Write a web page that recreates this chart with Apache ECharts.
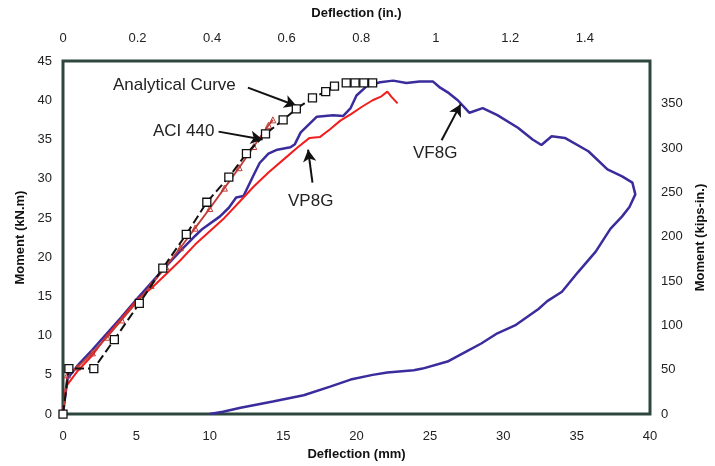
<!DOCTYPE html>
<html>
<head>
<meta charset="utf-8">
<script src="https://cdn.jsdelivr.net/npm/echarts@6/dist/echarts.min.js"></script>
<style>
  html, body { margin: 0; padding: 0; background: #fff; }
  #chart { width: 715px; height: 466px; }
</style>
</head>
<body>
<div id="chart"></div>
<script>
// 分析曲线 (mm, kN.m)
var analyticalX = [0, 0.4, 2.1, 3.5, 5.2, 6.8, 8.4, 9.8, 11.3, 12.5, 13.8, 15.0, 15.9, 17.0, 17.9, 18.5, 19.3, 19.9, 20.5, 21.1];
var analyticalY = [0, 5.8, 5.8, 9.5, 14.1, 18.6, 22.9, 27.0, 30.2, 33.2, 35.7, 37.5, 38.9, 40.3, 41.1, 41.8, 42.2, 42.2, 42.2, 42.2];

// ACI 440
var aciX = [0, 0.3, 1, 2, 3, 4, 5, 6, 7, 8, 9, 10, 11, 12, 13, 14, 14.3];
var aciY = [0, 5.0, 6.0, 7.8, 9.8, 12.0, 14.2, 16.4, 18.8, 21.2, 23.7, 26.2, 28.8, 31.4, 34.1, 36.8, 37.5];

// VP8G 试件
var vp8gX = [0, 0.2, 1, 2, 3, 4, 5, 6, 7, 8, 9, 10, 11, 12, 13, 14, 15, 16, 16.8, 17.5, 18.2, 18.9, 19.6, 20.4, 21.1, 21.7, 22.1, 22.4, 22.8];
var vp8gY = [0, 3.5, 5.5, 7.5, 10.0, 12.2, 14.5, 16.0, 17.8, 19.6, 21.6, 23.3, 25.0, 27.0, 29.0, 30.8, 32.4, 34.0, 35.2, 35.3, 36.3, 37.4, 38.2, 39.2, 40.0, 40.5, 41.1, 40.4, 39.6];

// VF8G 试件 (含卸载段)
var vf8gX = [0, 0.3, 1, 2, 3, 4, 5, 6, 7, 8, 9, 9.5, 10.7, 11.3, 11.8, 12.3, 13.0, 13.4, 14.0, 14.6, 15.5, 15.8, 16.2, 17.3, 18.4, 19.1, 19.6, 20.0, 20.7, 21.6, 22.5, 23.4, 24.3, 25.2, 25.7, 26.3, 26.9, 27.4, 27.7, 28.6, 29.6, 31.0, 32.0, 32.6, 33.3, 34.2, 35.8, 37.1, 38.1, 38.8, 39.0, 38.6, 38.1, 37.3, 36.3, 35.1, 34.0, 33.0, 32.4, 30.8, 29.6, 28.5, 27.5, 26.2, 24.5, 23.9, 22.1, 21.1, 19.6, 18.2, 16.4, 14.3, 12.1, 10.9, 10.0];
var vf8gY = [0, 4.5, 6.2, 8.2, 10.3, 12.4, 14.6, 16.7, 18.8, 20.8, 22.7, 23.6, 25.2, 26.3, 27.6, 27.8, 30.5, 32.0, 33.2, 33.7, 34.0, 34.4, 35.9, 37.9, 38.1, 38.0, 39.0, 40.6, 41.8, 42.3, 42.5, 42.2, 42.4, 42.4, 41.6, 40.9, 40.0, 39.0, 38.4, 39.0, 38.1, 36.5, 35.0, 34.3, 35.4, 35.2, 33.5, 31.2, 30.3, 29.5, 28.0, 26.4, 25.2, 23.6, 20.7, 18.1, 15.6, 14.4, 13.4, 11.3, 10.3, 9.0, 8.0, 6.7, 5.8, 5.6, 5.3, 5.0, 4.4, 3.5, 2.4, 1.6, 0.8, 0.3, 0];

// 箭头 (起点, 终点), 数据坐标
var arrowFrom = [[12.6, 41.6], [10.6, 36.0], [17.0, 29.5], [25.8, 34.9]];
var arrowTo = [[15.9, 39.3], [13.6, 35.0], [16.7, 33.7], [27.1, 39.5]];

var MM_PER_IN = 25.4;
var KIPIN_PER_KNM = 8.8507;

function pairs(xs, ys) {
    var out = [];
    for (var i = 0; i < xs.length; i++) out.push([xs[i], ys[i]]);
    return out;
}

var fontFamily = '"Liberation Sans", Arial, sans-serif';
var labelStyle = { color: '#222', fontSize: 13, fontFamily: fontFamily };
var nameStyle = { color: '#111', fontSize: 13, fontWeight: 'bold', fontFamily: fontFamily };

var arrows = [];
for (var i = 0; i < arrowFrom.length; i++) {
    arrows.push([{ coord: arrowFrom[i] }, { coord: arrowTo[i] }]);
}

var chart = echarts.init(document.getElementById('chart'));
var option = {
    animation: false,
    backgroundColor: '#fff',
    grid: {
        left: 63, right: 65, top: 61, bottom: 50,
        show: true, borderColor: '#2d463e', borderWidth: 3, backgroundColor: '#fff'
    },
    xAxis: [
        {
            type: 'value', position: 'bottom', min: 0, max: 40, interval: 5,
            name: 'Deflection (mm)', nameLocation: 'middle', nameGap: 30, nameTextStyle: nameStyle,
            axisLine: { show: false }, axisTick: { show: false }, splitLine: { show: false },
            axisLabel: Object.assign({ margin: 16 }, labelStyle)
        },
        {
            type: 'value', position: 'top', min: 0, max: 40 / MM_PER_IN, interval: 0.2,
            name: 'Deflection (in.)', nameLocation: 'middle', nameGap: 41, nameTextStyle: nameStyle,
            axisLine: { show: false }, axisTick: { show: false }, splitLine: { show: false },
            axisLabel: Object.assign({ margin: 16, showMaxLabel: false }, labelStyle)
        }
    ],
    yAxis: [
        {
            type: 'value', position: 'left', min: 0, max: 45, interval: 5,
            name: 'Moment (kN.m)', nameLocation: 'middle', nameGap: 35, nameTextStyle: nameStyle,
            axisLine: { show: false }, axisTick: { show: false }, splitLine: { show: false },
            axisLabel: Object.assign({ margin: 11 }, labelStyle)
        },
        {
            type: 'value', position: 'right', min: 0, max: 45 * KIPIN_PER_KNM, interval: 50,
            name: 'Moment (kips-in.)', nameLocation: 'middle', nameGap: 38, nameTextStyle: nameStyle,
            axisLine: { show: false }, axisTick: { show: false }, splitLine: { show: false },
            axisLabel: Object.assign({ margin: 11, showMaxLabel: false }, labelStyle)
        }
    ],
    series: [
        {
            name: 'VF8G', type: 'line', data: pairs(vf8gX, vf8gY),
            showSymbol: false, lineStyle: { color: '#3a2c9c', width: 2.5 }, z: 2
        },
        {
            name: 'VP8G', type: 'line', data: pairs(vp8gX, vp8gY),
            showSymbol: false, lineStyle: { color: '#f01e1e', width: 2 }, z: 3
        },
        {
            name: 'ACI 440', type: 'line', data: pairs(aciX, aciY),
            symbol: 'triangle', symbolSize: 6, showSymbol: true,
            itemStyle: { color: 'transparent', borderColor: '#c03a36', borderWidth: 1 },
            lineStyle: { color: '#c03a36', width: 1.8 }, z: 4
        },
        {
            name: 'Analytical Curve', type: 'line', data: pairs(analyticalX, analyticalY),
            symbol: 'rect', symbolSize: 8,
            itemStyle: { color: '#fff', borderColor: '#111', borderWidth: 1.3 },
            lineStyle: { color: '#111', width: 2, type: [9, 4] }, z: 5,
            markLine: {
                silent: true, symbol: ['none', 'arrow'], symbolSize: [10, 12],
                label: { show: false },
                lineStyle: { color: '#111', width: 2, type: 'solid' },
                data: arrows
            }
        }
    ],
    graphic: [
        { type: 'text', left: 113, top: 77, style: { text: 'Analytical Curve', fill: '#222', font: '17px ' + fontFamily } },
        { type: 'text', left: 153, top: 123, style: { text: 'ACI 440', fill: '#222', font: '17px ' + fontFamily } },
        { type: 'text', left: 288, top: 193, style: { text: 'VP8G', fill: '#222', font: '17px ' + fontFamily } },
        { type: 'text', left: 413, top: 145, style: { text: 'VF8G', fill: '#222', font: '17px ' + fontFamily } }
    ]
};
chart.setOption(option, true);
</script>
</body>
</html>
